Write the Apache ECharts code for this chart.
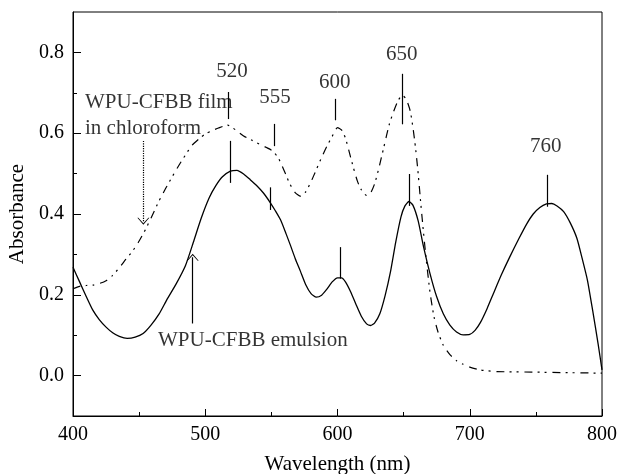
<!DOCTYPE html>
<html><head><meta charset="utf-8">
<script src="https://cdn.jsdelivr.net/npm/echarts@6/dist/echarts.min.js"></script>
<style>html,body{margin:0;padding:0;background:#fff}#c{width:618px;height:474px}</style>
</head><body><div id="c"></div>
<script>
// ---- data ----
const emulsionX = [400,405,410,415,420,425,430,435,441,447,453,459,465,471,478,485,491,497,503,508,513,519,524,529,534,539,544,549,553,557,561,564,568,572,576,580,584,588,592,596,600,603,606,610,614,618,622,625,628,632,636,640,644,648,651,654,657,661,665,670,675,680,685,690,695,700,704,708,713,718,724,730,737,743,748,753,758,762,766,771,776,781,785,789,793,797,800];
const emulsionY = [0.268,0.232,0.196,0.162,0.138,0.120,0.106,0.097,0.092,0.095,0.104,0.125,0.152,0.188,0.227,0.272,0.330,0.39,0.440,0.470,0.492,0.506,0.508,0.499,0.485,0.470,0.452,0.429,0.408,0.385,0.352,0.326,0.29,0.258,0.225,0.203,0.194,0.199,0.214,0.232,0.242,0.242,0.232,0.207,0.176,0.147,0.128,0.124,0.130,0.153,0.198,0.256,0.33,0.393,0.42,0.431,0.422,0.383,0.32,0.252,0.195,0.153,0.125,0.108,0.101,0.102,0.112,0.131,0.165,0.204,0.25,0.292,0.338,0.375,0.400,0.416,0.425,0.426,0.420,0.406,0.378,0.340,0.29,0.236,0.16,0.08,0.014];
const filmX = [400,405,410,415,420,425,430,435,440,445,450,455,460,465,470,475,480,485,490,495,500,505,510,517,523,529,535,541,546,551,555,558,561,564,568,572,576,580,584,588,592,596,600,603,606,609,612,615,618,622,625,628,631,635,639,642,646,649,652,655,657,659,661,663,665,667,670,673,676,680,685,690,695,700,708,720,740,760,780,800];
const filmY = [0.215,0.221,0.223,0.224,0.228,0.235,0.248,0.267,0.288,0.308,0.333,0.363,0.397,0.432,0.463,0.492,0.520,0.546,0.570,0.585,0.598,0.606,0.613,0.620,0.608,0.593,0.583,0.573,0.565,0.556,0.540,0.520,0.497,0.474,0.453,0.444,0.455,0.480,0.510,0.54,0.568,0.592,0.614,0.608,0.588,0.552,0.515,0.482,0.460,0.446,0.452,0.474,0.510,0.565,0.620,0.650,0.682,0.694,0.684,0.655,0.615,0.564,0.50,0.425,0.355,0.29,0.205,0.145,0.108,0.075,0.052,0.037,0.028,0.021,0.014,0.010,0.009,0.008,0.007,0.006];
const xTicks = [400,500,600,700,800];
const yTicks = [0.0,0.2,0.4,0.6,0.8];
const yMinorTicks = [0.1,0.3,0.5,0.7];
const peakNames = ['520','555','600','650','760'];

// ---- annotations (data coordinates) ----
const peakLabelPos = [[520.2,0.753],[552.7,0.689],[598,0.725],[648.5,0.796],[757.4,0.568]];
const filmMarks = [[517.7,0.702,0.635],[552,0.623,0.568],[598,0.685,0.632],[649.3,0.747,0.622]];
const emulsionMarks = [[518.7,0.581,0.477],[549,0.466,0.41],[601.9,0.318,0.24],[654.3,0.499,0.42],[758.6,0.497,0.418]];
const textNotes = [['WPU-CFBB film',409.1,0.677],['in chloroform',409.1,0.611],['WPU-CFBB emulsion',464.3,0.0875]];

const FONT = 'Liberation Serif';
const FS = 21;
const TFS = 20;
const chevron = 'path://M0,10 L10,0 L20,10 L18.4,10 L10,2.2 L1.6,10 Z';

function pairs(xs, ys){ return xs.map((x,i)=>[x, ys[i]]); }
function segs(arr){ return arr.map(m=>[{coord:[m[0],m[1]]},{coord:[m[0],m[2]]}]); }

const labelStyle = {fontFamily:FONT,fontSize:FS,color:'#000',textBorderWidth:0,textBorderColor:'transparent',textShadowBlur:0};

const chart = echarts.init(document.getElementById('c'), null, {renderer:'canvas'});
chart.setOption({
  animation:false,
  backgroundColor:'#fff',
  grid:{left:73,right:16,top:12,bottom:58,outerBoundsMode:'none',containLabel:false,show:true,borderColor:'#000',borderWidth:1,backgroundColor:'transparent'},
  xAxis:{
    type:'value',min:400,max:800,interval:100,
    name:'Wavelength (nm)',nameLocation:'middle',nameGap:38,
    nameTextStyle:{fontFamily:FONT,fontSize:FS,color:'#000'},
    axisLine:{onZero:false,lineStyle:{color:'#000',width:1}},
    axisTick:{inside:true,length:7,lineStyle:{color:'#000'}},
    minorTick:{show:true,splitNumber:2,length:4,lineStyle:{color:'#000'}},
    axisLabel:{fontFamily:FONT,fontSize:TFS,color:'#000',margin:9},
    splitLine:{show:false}
  },
  yAxis:[{
    type:'value',min:-0.1,max:0.9,position:'left',
    name:'Absorbance',nameLocation:'middle',nameGap:45,
    nameTextStyle:{fontFamily:FONT,fontSize:FS,color:'#000'},
    axisLine:{show:true,onZero:false,lineStyle:{color:'#000',width:1}},
    axisTick:{show:true,inside:true,length:8,customValues:yTicks,lineStyle:{color:'#000'}},
    axisLabel:{customValues:yTicks,fontFamily:FONT,fontSize:TFS,color:'#000',margin:9,formatter:v=>Number(v).toFixed(1)},
    splitLine:{show:false}
  },{
    type:'value',min:-0.1,max:0.9,position:'left',offset:0,
    axisLine:{show:false,onZero:false},
    axisTick:{show:true,inside:true,length:4,customValues:yMinorTicks,lineStyle:{color:'#000'}},
    axisLabel:{show:false},
    splitLine:{show:false}
  }],
  series:[{
    type:'line',name:'emulsion',data:pairs(emulsionX,emulsionY),smooth:0.2,showSymbol:false,
    lineStyle:{color:'#000',width:1.3},
    markLine:{silent:true,symbol:'none',label:{show:false},lineStyle:{color:'#000',width:1.2,type:'solid'},
      data:segs(emulsionMarks).concat([[
        {coord:[490.5,0.129],symbol:'none'},
        {coord:[490.5,0.293],symbol:chevron,symbolSize:[12,7]}
      ]])}
  },{
    type:'line',name:'film',data:pairs(filmX,filmY),smooth:0.2,showSymbol:false,
    lineStyle:{color:'#000',width:1.2,type:[8,5,2,5,2,6]},
    markLine:{silent:true,symbol:'none',label:{show:false},lineStyle:{color:'#000',width:1.2,type:'solid'},
      data:segs(filmMarks).concat([[
        {coord:[453.2,0.581],symbol:'none',lineStyle:{type:'dotted',width:1.2}},
        {coord:[453.2,0.382],symbol:chevron,symbolSize:[12,7],lineStyle:{type:'dotted',width:1.2}}
      ]])}
  },{
    type:'scatter',symbolSize:0,silent:true,itemStyle:{color:'#000'},
    data:peakLabelPos.map((p,i)=>({value:p,name:peakNames[i]})),
    label:Object.assign({show:true,position:'inside',formatter:'{b}'},labelStyle)
  },{
    type:'scatter',symbolSize:0,silent:true,itemStyle:{color:'#000'},
    data:textNotes.map(t=>({value:[t[1],t[2]],name:t[0]})),
    label:Object.assign({show:true,position:'right',distance:0,formatter:'{b}'},labelStyle)
  }]
});
</script></body></html>
